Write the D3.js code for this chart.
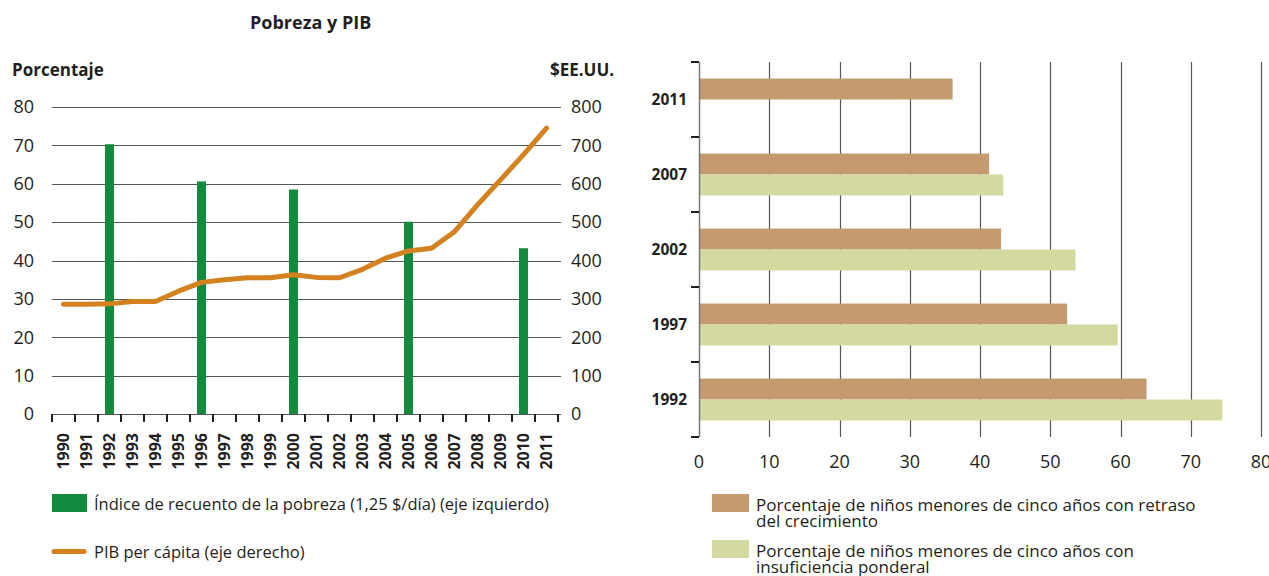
<!DOCTYPE html>
<html>
<head>
<meta charset="utf-8">
<script src="https://cdn.jsdelivr.net/npm/d3@7"></script>
<style>
  body { margin: 0; background: #fff; }
  svg text { font-family: "Open Sans", "Noto Sans", sans-serif; fill: #231f20; }
</style>
</head>
<body>
<svg id="chart" width="1269" height="576"></svg>
<script>
// left panel: poverty headcount + GDP per capita
var years = ["1990","1991","1992","1993","1994","1995","1996","1997","1998","1999","2000",
             "2001","2002","2003","2004","2005","2006","2007","2008","2009","2010","2011"];
var gdpValues = [286, 286, 287, 293, 293, 320, 343, 350, 355, 355, 363,
                 356, 355, 377, 406, 425, 432, 475, 545, 610, 676, 745];
var povertyYears = ["1992","1996","2000","2005","2010"];
var povertyValues = [70.3, 60.6, 58.5, 50.1, 43.2];
var leftTicks = [0, 10, 20, 30, 40, 50, 60, 70, 80];
var rightTicks = [0, 100, 200, 300, 400, 500, 600, 700, 800];

// right panel: child malnutrition
var survey = ["2011", "2007", "2002", "1997", "1992"];
var stunting = [36.1, 41.3, 43.0, 52.4, 63.7];
var underweight = [null, 43.3, 53.6, 59.6, 74.5];
var barTicks = [0, 10, 20, 30, 40, 50, 60, 70, 80];

var GREEN = "#138a3c", ORANGE = "#d4811f", BROWN = "#c49b6f", PALE = "#d4d99f";
var GRID = "#555";

var svg = d3.select("#chart");

function drawLeft() {
    let x = d3.scaleBand().domain(years).range([52, 558]);
    let yL = d3.scaleLinear().domain([0, 80]).range([414, 107]);
    let yR = d3.scaleLinear().domain([0, 800]).range([414, 107]);
    let g = svg.append("g");

    g.append("text").attr("x", 250).attr("y", 29)
        .style("font-weight", "bold").style("font-size", "18px").text("Pobreza y PIB");
    g.append("text").attr("x", 12).attr("y", 76)
        .style("font-weight", "bold").style("font-size", "17px").text("Porcentaje");
    g.append("text").attr("x", 550).attr("y", 76)
        .style("font-weight", "bold").style("font-size", "17px").text("$EE.UU.");

    // horizontal grid
    g.append("g").selectAll("line")
        .data(leftTicks).enter().append("line")
        .attr("x1", 52).attr("x2", 561)
        .attr("y1", d => Math.round(yL(d)) + 0.5).attr("y2", d => Math.round(yL(d)) + 0.5)
        .attr("stroke", GRID).attr("stroke-width", 1.2);

    g.append("g").selectAll("text")
        .data(leftTicks).enter().append("text")
        .attr("x", 34).attr("y", d => yL(d)).attr("dy", "0.35em")
        .attr("text-anchor", "end").style("font-size", "18px").text(d => d);

    g.append("g").selectAll("text")
        .data(rightTicks).enter().append("text")
        .attr("x", 571).attr("y", d => yR(d)).attr("dy", "0.35em")
        .style("font-size", "18px").text(d => d);

    // x tick marks on band edges
    let edges = years.map(d => x(d)).concat([x.range()[1]]);
    g.append("g").selectAll("line")
        .data(edges).enter().append("line")
        .attr("x1", d => d).attr("x2", d => d)
        .attr("y1", 414).attr("y2", 422)
        .attr("stroke", "#231f20").attr("stroke-width", 2);

    g.append("g").selectAll("text")
        .data(years).enter().append("text")
        .attr("transform", d => "translate(" + (x(d) + x.bandwidth() / 2) + ",433) rotate(-90)")
        .attr("dy", "0.36em").attr("text-anchor", "end")
        .style("font-weight", "bold").style("font-size", "16px").text(d => d);

    // poverty bars
    let bw = 9;
    g.append("g").selectAll("rect")
        .data(povertyYears.map((d, i) => ({year: d, value: povertyValues[i]})))
        .enter().append("rect")
        .attr("x", d => x(d.year) + x.bandwidth() / 2 - bw / 2)
        .attr("width", bw)
        .attr("y", d => yL(d.value))
        .attr("height", d => yL(0) - yL(d.value))
        .attr("fill", GREEN);

    // GDP line
    let line = d3.line()
        .x((d, i) => x(years[i]) + x.bandwidth() / 2)
        .y(d => yR(d));
    g.append("path").datum(gdpValues)
        .attr("d", line).attr("fill", "none")
        .attr("stroke", ORANGE).attr("stroke-width", 5)
        .attr("stroke-linecap", "round").attr("stroke-linejoin", "round");

    // legend
    g.append("rect").attr("x", 52).attr("y", 494).attr("width", 35).attr("height", 18).attr("fill", GREEN);
    g.append("text").attr("x", 94).attr("y", 510).style("font-size", "16.5px")
        .text("Índice de recuento de la pobreza (1,25 $/día) (eje izquierdo)");
    g.append("line").attr("x1", 54).attr("x2", 84).attr("y1", 551.5).attr("y2", 551.5)
        .attr("stroke", ORANGE).attr("stroke-width", 5).attr("stroke-linecap", "round");
    g.append("text").attr("x", 94).attr("y", 558).style("font-size", "16.5px")
        .text("PIB per cápita (eje derecho)");
}

function drawRight() {
    let x = d3.scaleLinear().domain([0, 80]).range([699, 1261]);
    let y = d3.scaleBand().domain(survey).range([62, 437]);
    let sub = d3.scaleBand().domain(["stunting", "underweight"])
        .range([0, y.bandwidth()]).paddingOuter(0.79);
    let g = svg.append("g");

    g.append("g").selectAll("line")
        .data(barTicks.slice(1)).enter().append("line")
        .attr("x1", d => Math.round(x(d)) + 0.5).attr("x2", d => Math.round(x(d)) + 0.5)
        .attr("y1", 62).attr("y2", 437)
        .attr("stroke", GRID).attr("stroke-width", 1.2);

    g.append("g").selectAll("text")
        .data(barTicks).enter().append("text")
        .attr("x", d => x(d)).attr("y", 468)
        .attr("text-anchor", "middle").style("font-size", "18px").text(d => d);

    let rows = survey.map((d, i) => ({year: d, stunting: stunting[i], underweight: underweight[i]}));
    let row = g.append("g").selectAll("g")
        .data(rows).enter().append("g")
        .attr("transform", d => "translate(0," + y(d.year) + ")");

    row.filter(d => d.stunting != null).append("rect")
        .attr("x", x(0)).attr("y", sub("stunting"))
        .attr("width", d => x(d.stunting) - x(0)).attr("height", sub.bandwidth())
        .attr("fill", BROWN);
    row.filter(d => d.underweight != null).append("rect")
        .attr("x", x(0)).attr("y", sub("underweight"))
        .attr("width", d => x(d.underweight) - x(0)).attr("height", sub.bandwidth())
        .attr("fill", PALE);

    // left axis with ticks at band edges
    g.append("line").attr("x1", 699.5).attr("x2", 699.5).attr("y1", 62).attr("y2", 437)
        .attr("stroke", "#777").attr("stroke-width", 1.5);
    let edges = survey.map(d => y(d)).concat([y.range()[1]]);
    g.append("g").selectAll("line")
        .data(edges).enter().append("line")
        .attr("x1", 691).attr("x2", 699)
        .attr("y1", d => d).attr("y2", d => d)
        .attr("stroke", "#231f20").attr("stroke-width", 2);

    g.append("g").selectAll("text")
        .data(survey).enter().append("text")
        .attr("x", 687).attr("y", d => y(d) + y.bandwidth() / 2).attr("dy", "0.35em")
        .attr("text-anchor", "end").style("font-weight", "bold").style("font-size", "15.5px")
        .text(d => d);

    // legend
    let legend = [
        {color: BROWN, y: 494, lines: ["Porcentaje de niños menores de cinco años con retraso", "del crecimiento"]},
        {color: PALE, y: 540, lines: ["Porcentaje de niños menores de cinco años con", "insuficiencia ponderal"]}
    ];
    let items = g.append("g").selectAll("g")
        .data(legend).enter().append("g");
    items.append("rect").attr("x", 712).attr("y", d => d.y)
        .attr("width", 37).attr("height", 18).attr("fill", d => d.color);
    items.append("text").attr("x", 756).attr("y", d => d.y + 17)
        .style("font-size", "17px")
        .selectAll("tspan").data(d => d.lines).enter().append("tspan")
        .attr("x", 756).attr("dy", (d, i) => i == 0 ? 0 : 15.8)
        .text(d => d);
}

drawLeft();
drawRight();
</script>
</body>
</html>
